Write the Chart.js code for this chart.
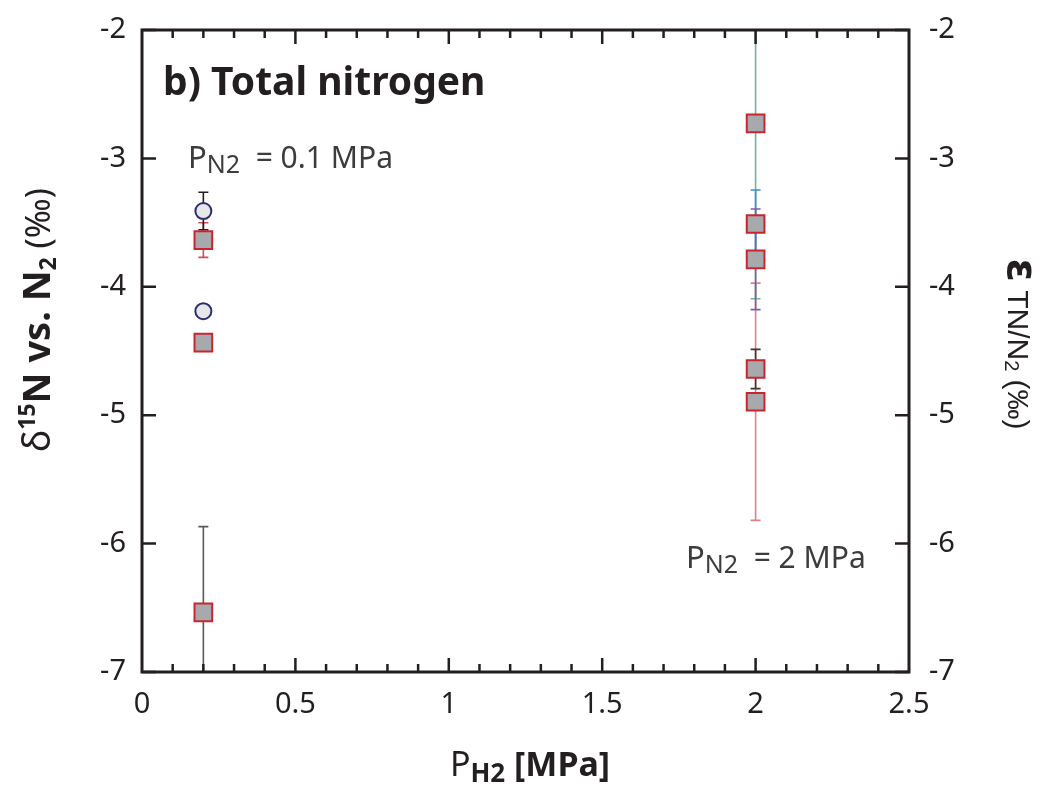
<!DOCTYPE html>
<html lang="en">
<head>
    <meta charset="UTF-8">
    <title>b) Total nitrogen</title>
    <script src="https://cdn.jsdelivr.net/npm/chart.js"></script>
    <style>
        body { margin: 0; background: #fff; }
    </style>
</head>
<body>
    <canvas id="grafica" width="1044" height="787"></canvas>

    <script>
        // squares: delta15N of total nitrogen
        const squareX = [0.2, 0.2, 0.2, 2, 2, 2, 2, 2];
        const squareY = [-3.636, -4.435, -6.535, -4.895, -2.727, -3.511, -3.786, -4.64];
        const squareErr = [0.135, 0, 0.667, 0.924, 1.366, 0.265, 0.392, 0.153];
        const squareErrColor = ['#c9505a', '#c9505a', '#58595b', '#e27f8d', '#6cb79b', '#3d8fd1', '#7d5ca8', '#3a3435'];

        // circles
        const circleX = [0.2, 0.2];
        const circleY = [-3.41, -4.19];
        const circleErr = [0.146, 0];
        const circleErrColor = ['#231f20', '#231f20'];

        const xTicks = [0, 0.5, 1, 1.5, 2, 2.5];
        const yTicks = [-7, -6, -5, -4, -3, -2];

        const ink = '#231f20';
        const sans = '"Noto Sans", "Open Sans", sans-serif';

        function richWidth(ctx, parts) {
            let w = 0;
            parts.forEach(p => { ctx.font = p.font; w += ctx.measureText(p.t).width; });
            return w;
        }

        // draws text pieces one after another (sub/superscripts via dy)
        function drawRich(ctx, parts, x, y, align) {
            let cx = x;
            if (align === 'center') cx = x - richWidth(ctx, parts) / 2;
            ctx.textAlign = 'left';
            ctx.textBaseline = 'alphabetic';
            parts.forEach(p => {
                ctx.font = p.font;
                ctx.fillText(p.t, cx, y + (p.dy || 0));
                cx += ctx.measureText(p.t).width;
            });
        }

        function errorBars(ctx, xs, ys, xv, yv, ev, colors) {
            xv.forEach((x, i) => {
                if (!ev[i]) return;
                const px = xs.getPixelForValue(x);
                const top = ys.getPixelForValue(yv[i] + ev[i]);
                const bot = ys.getPixelForValue(yv[i] - ev[i]);
                ctx.strokeStyle = colors[i];
                ctx.lineWidth = 1.6;
                ctx.beginPath();
                ctx.moveTo(px, top); ctx.lineTo(px, bot);
                ctx.moveTo(px - 5, top); ctx.lineTo(px + 5, top);
                ctx.moveTo(px - 5, bot); ctx.lineTo(px + 5, bot);
                ctx.stroke();
            });
        }

        const overlay = {
            id: 'overlay',
            beforeDatasetsDraw(chart) {
                const { ctx, chartArea: a, scales } = chart;
                ctx.save();
                ctx.beginPath();
                ctx.rect(a.left, a.top, a.right - a.left, a.bottom - a.top);
                ctx.clip();
                errorBars(ctx, scales.x, scales.y, squareX, squareY, squareErr, squareErrColor);
                errorBars(ctx, scales.x, scales.y, circleX, circleY, circleErr, circleErrColor);
                ctx.restore();
            },
            afterDraw(chart) {
                const { ctx, chartArea: a, scales } = chart;
                const xs = scales.x, ys = scales.y;
                ctx.save();
                ctx.strokeStyle = ink;
                ctx.lineWidth = 3;
                ctx.strokeRect(a.left, a.top, a.right - a.left, a.bottom - a.top);

                // inward ticks
                ctx.lineWidth = 2.5;
                ctx.beginPath();
                for (let k = 1; k < 25; k++) {
                    const px = xs.getPixelForValue(k / 10);
                    const len = k % 5 === 0 ? 14 : 8;
                    ctx.moveTo(px, a.bottom); ctx.lineTo(px, a.bottom - len);
                    ctx.moveTo(px, a.top); ctx.lineTo(px, a.top + len);
                }
                yTicks.forEach(v => {
                    const py = ys.getPixelForValue(v);
                    ctx.moveTo(a.left, py); ctx.lineTo(a.left + 14, py);
                    ctx.moveTo(a.right, py); ctx.lineTo(a.right - 14, py);
                });
                ctx.stroke();

                ctx.fillStyle = ink;
                // panel title
                drawRich(ctx, [{ t: 'b) Total nitrogen', font: 'bold 39px ' + sans }], 163, 95);

                // annotations
                ctx.fillStyle = '#3c3c3c';
                drawRich(ctx, [
                    { t: 'P', font: '31px ' + sans },
                    { t: 'N2', font: '25px ' + sans, dy: 5 },
                    { t: '  = 0.1 MPa', font: '30px ' + sans }
                ], 188, 168);
                drawRich(ctx, [
                    { t: 'P', font: '31px ' + sans },
                    { t: 'N2', font: '25px ' + sans, dy: 5 },
                    { t: '  = 2 MPa', font: '30px ' + sans }
                ], 686, 568);

                // x axis title
                ctx.fillStyle = ink;
                drawRich(ctx, [
                    { t: 'P', font: '34px ' + sans },
                    { t: 'H2', font: 'bold 26px ' + sans, dy: 6 },
                    { t: ' [MPa]', font: 'bold 34px ' + sans }
                ], 530, 776, 'center');

                // left y title
                ctx.save();
                ctx.translate(50, 320);
                ctx.rotate(-Math.PI / 2);
                drawRich(ctx, [
                    { t: 'δ', font: '38px ' + sans },
                    { t: '15', font: 'bold 23px ' + sans, dy: -15 },
                    { t: 'N vs. N', font: 'bold 38px ' + sans },
                    { t: '2', font: 'bold 23px ' + sans, dy: 6 },
                    { t: ' (‰)', font: '34px ' + sans }
                ], 0, 0, 'center');
                ctx.restore();

                // right y title
                ctx.save();
                ctx.translate(1008, 344);
                ctx.rotate(Math.PI / 2);
                drawRich(ctx, [
                    { t: 'ε', font: 'bold 42px "DejaVu Sans", sans-serif' },
                    { t: ' TN/N', font: '30px "Liberation Sans", Arial, sans-serif' },
                    { t: '2', font: '20px "Liberation Sans", Arial, sans-serif', dy: 3 },
                    { t: ' (‰)', font: '30px "Liberation Sans", Arial, sans-serif' }
                ], 0, 0, 'center');
                ctx.restore();
                ctx.restore();
            }
        };

        const tickFont = { family: sans, size: 29 };
        const tickText = v => String(v);
        const fitY = w => s => { s.width = w; s.paddingTop = 0; s.paddingBottom = 0; };

        new Chart(document.getElementById('grafica'), {
            type: 'scatter',
            data: {
                datasets: [
                    {
                        label: 'TN',
                        data: squareX.map((x, i) => ({ x: x, y: squareY[i] })),
                        pointStyle: 'rect',
                        pointRadius: 12.5,
                        backgroundColor: '#a7a9ac',
                        borderColor: '#c9252f',
                        borderWidth: 2
                    },
                    {
                        label: 'circle',
                        data: circleX.map((x, i) => ({ x: x, y: circleY[i] })),
                        pointStyle: 'circle',
                        pointRadius: 8,
                        backgroundColor: '#e6e7e8',
                        borderColor: '#2e2d6f',
                        borderWidth: 2
                    }
                ]
            },
            options: {
                responsive: false,
                animation: false,
                layout: { padding: { top: 30 } },
                plugins: { legend: { display: false }, tooltip: { enabled: false } },
                scales: {
                    x: {
                        type: 'linear', min: 0, max: 2.5,
                        afterBuildTicks: s => { s.ticks = xTicks.map(v => ({ value: v })); },
                        afterFit: s => { s.height = 115; s.paddingLeft = 0; s.paddingRight = 0; },
                        grid: { display: false, drawTicks: false },
                        border: { display: false },
                        ticks: { font: tickFont, color: ink, padding: 15, maxRotation: 0, callback: tickText }
                    },
                    y: {
                        type: 'linear', min: -7, max: -2,
                        afterBuildTicks: s => { s.ticks = yTicks.map(v => ({ value: v })); },
                        afterFit: fitY(142),
                        grid: { display: false, drawTicks: false },
                        border: { display: false },
                        ticks: { font: tickFont, color: ink, padding: 16, callback: tickText }
                    },
                    y2: {
                        type: 'linear', position: 'right', min: -7, max: -2,
                        afterBuildTicks: s => { s.ticks = yTicks.map(v => ({ value: v })); },
                        afterFit: fitY(135),
                        grid: { display: false, drawTicks: false },
                        border: { display: false },
                        ticks: { font: tickFont, color: ink, padding: 20, callback: tickText }
                    }
                }
            },
            plugins: [overlay]
        });
    </script>
</body>
</html>
